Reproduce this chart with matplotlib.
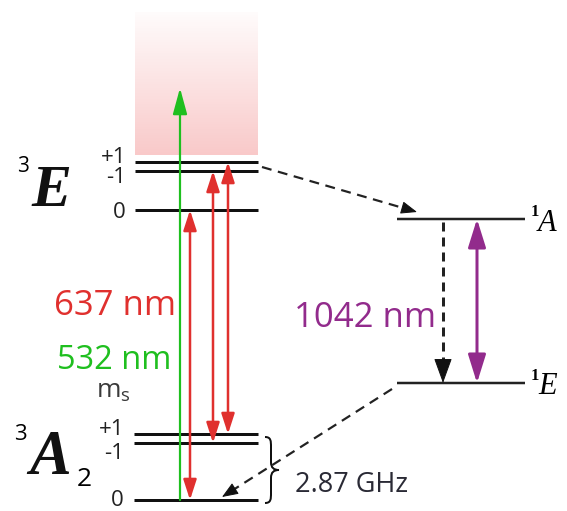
import matplotlib
matplotlib.use("Agg")
import matplotlib.pyplot as plt
import numpy as np
from matplotlib.path import Path
from matplotlib.patches import PathPatch

# energia de los niveles (en pixeles de la figura, y hacia abajo)
nivel_3E = [162, 171, 210]       # ms = +1, -1, 0
nivel_3A2 = [434, 443, 500]      # ms = +1, -1, 0
nivel_1A = 219
nivel_1E = 383
etiquetas_ms = ["+1", "-1", "0"]

# transiciones opticas: (x, nivel inferior, nivel superior)
x_rojas = [190, 213, 228]
rojas_abajo = [nivel_3A2[2], nivel_3A2[1], nivel_3A2[0]]
rojas_arriba = [nivel_3E[2], nivel_3E[1], nivel_3E[0]]
x_verde = 180
verde_tope = 88
x_morada = 477
x_isc = 443

ROJO = "#e0302e"
VERDE = "#1fbf1f"
MORADO = "#922b8c"
PX = 0.72  # pixeles -> puntos a 100 dpi

fig = plt.figure(figsize=(5.67, 5.11), dpi=100)
ax = fig.add_axes([0, 0, 1, 1])
ax.set_xlim(0, 567)
ax.set_ylim(511, 0)
ax.axis("off")


def flecha(x0, y0, x1, y1, color, lw, hl, hw, estilo="-|>"):
    ax.annotate("", xy=(x1, y1), xytext=(x0, y0),
                arrowprops=dict(arrowstyle=f"{estilo},head_length={hl * PX},head_width={hw * PX / 2}",
                                mutation_scale=1, lw=lw * PX, color=color,
                                shrinkA=0, shrinkB=0))


def flecha_discontinua(x0, y0, x1, y1, hl, hw):
    d = np.hypot(x1 - x0, y1 - y0)
    ux, uy = (x1 - x0) / d, (y1 - y0) / d
    ax.plot([x0, x1 - ux * hl], [y0, y1 - uy * hl], color="#222222",
            lw=2.2 * PX, ls=(0, (4.5, 3)))
    flecha(x1 - ux * (hl + 1), y1 - uy * (hl + 1), x1, y1, "#111111", 1, hl, hw)


# zona rosa (banda de fonones)
grad = np.zeros((100, 1, 4))
grad[:, 0, 0] = 0.97
grad[:, 0, 1] = 0.72
grad[:, 0, 2] = 0.72
grad[:, 0, 3] = np.linspace(0.05, 0.75, 100)
ax.imshow(grad, extent=[135, 258, 155, 12], aspect="auto", zorder=0)

# niveles
for y in nivel_3E:
    ax.plot([135, 258], [y, y], color="#111111", lw=3 * PX, solid_capstyle="butt")
for y in nivel_3A2:
    ax.plot([134, 258], [y, y], color="#111111", lw=3 * PX, solid_capstyle="butt")
for y in [nivel_1A, nivel_1E]:
    ax.plot([397, 525], [y, y], color="#222222", lw=2.5 * PX, solid_capstyle="butt")

# etiquetas ms
for lab, yb in zip(etiquetas_ms, [163, 183, 218]):
    ax.text(126, yb, lab, ha="right", va="baseline", fontsize=16,
            family="Open Sans", color="#222222")
for lab, yb in zip(etiquetas_ms, [435, 459, 506]):
    ax.text(124, yb, lab, ha="right", va="baseline", fontsize=16,
            family="Open Sans", color="#222222")

# flechas verde y rojas
flecha(x_verde, nivel_3A2[2], x_verde, verde_tope, VERDE, 2.2, 22, 12)
for x, y0, y1 in zip(x_rojas, rojas_abajo, rojas_arriba):
    flecha(x, y0, x, y1, ROJO, 2.5, 17, 11, estilo="<|-|>")

# transiciones singlete
flecha(x_morada, nivel_1A, x_morada, nivel_1E, MORADO, 3, 24, 15, estilo="<|-|>")
ax.plot([x_isc, x_isc], [nivel_1A + 3, nivel_1E - 20], color="#222222",
        lw=3 * PX, ls=(0, (3, 2)))
flecha(x_isc, nivel_1E - 22, x_isc, nivel_1E, "#111111", 1, 22, 16)

# cruces entre sistemas
flecha_discontinua(262, 167, 417, 212, 14, 11)
flecha_discontinua(392, 389, 222, 497, 14, 11)

# nombres de los estados
ax.text(17, 172, "3", fontsize=15, family="Open Sans", va="baseline")
ax.text(31, 206, "E", fontsize=43, family="Liberation Serif",
        weight="bold", style="italic", va="baseline", color="#111111")
ax.text(14, 440, "3", fontsize=16, family="Open Sans", va="baseline")
ax.text(29, 474, "A", fontsize=45, family="Liberation Serif",
        weight="bold", style="italic", va="baseline", color="#111111")
ax.text(77, 486, "2", fontsize=19, family="Open Sans", va="baseline")

ax.text(531, 216, "1", fontsize=12, family="Liberation Serif", weight="bold", va="baseline")
ax.text(538, 231, "A", fontsize=22, family="Liberation Serif", style="italic", va="baseline")
ax.text(531, 380, "1", fontsize=12, family="Liberation Serif", weight="bold", va="baseline")
ax.text(538, 394, "E", fontsize=22, family="Liberation Serif", style="italic", va="baseline")

# longitudes de onda
ax.text(54, 315, "637 nm", color=ROJO, fontsize=25, family="Open Sans", va="baseline")
ax.text(57, 369, "532 nm", color=VERDE, fontsize=23.5, family="Open Sans", va="baseline")
ax.text(96, 398, r"m$_\mathregular{s}$", color="#3a3a3a", fontsize=19,
        family="Open Sans", va="baseline")
ax.text(294, 327, "1042 nm", color=MORADO, fontsize=25, family="Open Sans", va="baseline")

# llave y separacion de campo cero
xl, xm, xt, y0, y1, ym = 265, 271, 279, 437, 503, 470
verts = [(xl, y0), (xm, y0), (xm, y0 + 4), (xm, y0 + 10),
         (xm, ym - 8),
         (xm, ym - 2), (xm + 3, ym), (xt, ym),
         (xm + 3, ym), (xm, ym + 2), (xm, ym + 8),
         (xm, y1 - 10),
         (xm, y1 - 4), (xm, y1), (xl, y1)]
codes = [Path.MOVETO, Path.CURVE4, Path.CURVE4, Path.CURVE4,
         Path.LINETO,
         Path.CURVE4, Path.CURVE4, Path.CURVE4,
         Path.CURVE4, Path.CURVE4, Path.CURVE4,
         Path.LINETO,
         Path.CURVE4, Path.CURVE4, Path.CURVE4]
ax.add_patch(PathPatch(Path(verts, codes), fill=False, lw=2 * PX, color="#111111"))
ax.text(295, 492, "2.87 GHz", color="#2a2a35", fontsize=19.5, family="Open Sans", va="baseline")

fig.savefig("out.png", dpi=100)
